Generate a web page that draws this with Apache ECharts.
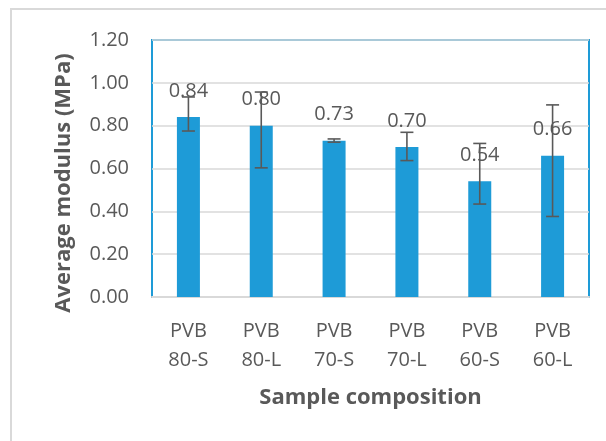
<!DOCTYPE html>
<html>
<head>
<meta charset="utf-8">
<script src="https://cdn.jsdelivr.net/npm/echarts@6/dist/echarts.min.js"></script>
<style>
html,body{margin:0;padding:0;background:#fff;}
#chart{width:606px;height:441px;}
</style>
</head>
<body>
<div id="chart"></div>
<script>
const categories = ['PVB\n80-S', 'PVB\n80-L', 'PVB\n70-S', 'PVB\n70-L', 'PVB\n60-S', 'PVB\n60-L'];
const modulus = [0.84, 0.80, 0.73, 0.70, 0.54, 0.66];
const errLow = [0.775, 0.603, 0.723, 0.637, 0.434, 0.376];
const errHigh = [0.934, 0.957, 0.738, 0.769, 0.717, 0.897];

const FONT = '"Open Sans", "Noto Sans", sans-serif';
const GRAY = '#595959';

const chart = echarts.init(document.getElementById('chart'), null, {renderer: 'canvas'});
chart.setOption({
  animation: false,
  backgroundColor: '#ffffff',
  textStyle: {fontFamily: FONT},
  graphic: [{
    type: 'rect',
    shape: {x: 11, y: 9, width: 620, height: 460},
    style: {fill: 'none', stroke: '#d9d9d9', lineWidth: 2},
    z: -10
  }],
  grid: {
    left: 152, right: 17, top: 40, bottom: 144,
    show: true, borderColor: '#1E9BD7', borderWidth: 2, backgroundColor: 'transparent'
  },
  xAxis: {
    type: 'category',
    data: categories,
    axisLine: {show: true, lineStyle: {color: '#d9d9d9', width: 2}},
    axisTick: {show: false},
    axisLabel: {color: GRAY, fontSize: 20, fontFamily: FONT, lineHeight: 29, margin: 20},
    name: 'Sample composition',
    nameLocation: 'middle',
    nameGap: 90,
    nameTextStyle: {color: GRAY, fontSize: 22, fontWeight: 'bold', fontFamily: FONT}
  },
  yAxis: {
    type: 'value',
    min: 0, max: 1.2, interval: 0.2,
    axisLine: {show: false},
    axisTick: {show: false},
    splitLine: {lineStyle: {color: '#d9d9d9', width: 1.5}},
    axisLabel: {color: GRAY, fontSize: 20, fontFamily: FONT, margin: 23,
      formatter: v => v.toFixed(2)},
    name: 'Average modulus (MPa)',
    nameLocation: 'middle',
    nameGap: 77,
    nameTextStyle: {color: GRAY, fontSize: 22, fontWeight: 'bold', fontFamily: FONT, padding: [0, 29, 0, 0]}
  },
  series: [{
    type: 'bar',
    data: modulus,
    barWidth: 23,
    itemStyle: {color: '#1E9BD7'},
    z: 2,
    label: {
      show: true, position: 'top', distance: 16,
      color: GRAY, fontSize: 20, fontFamily: FONT,
      formatter: p => p.value.toFixed(2)
    }
  }, {
    type: 'custom',
    z: 5,
    data: categories.map((c, i) => [i, errLow[i], errHigh[i]]),
    renderItem: function (params, api) {
      const lo = api.coord([api.value(0), api.value(1)]);
      const hi = api.coord([api.value(0), api.value(2)]);
      const hw = 6.5;
      const style = {stroke: GRAY, lineWidth: 1.6, fill: null};
      return {
        type: 'group',
        children: [
          {type: 'line', shape: {x1: lo[0], y1: lo[1], x2: hi[0], y2: hi[1]}, style: style},
          {type: 'line', shape: {x1: lo[0] - hw, y1: lo[1], x2: lo[0] + hw, y2: lo[1]}, style: style},
          {type: 'line', shape: {x1: hi[0] - hw, y1: hi[1], x2: hi[0] + hw, y2: hi[1]}, style: style}
        ]
      };
    }
  }]
});
</script>
</body>
</html>
